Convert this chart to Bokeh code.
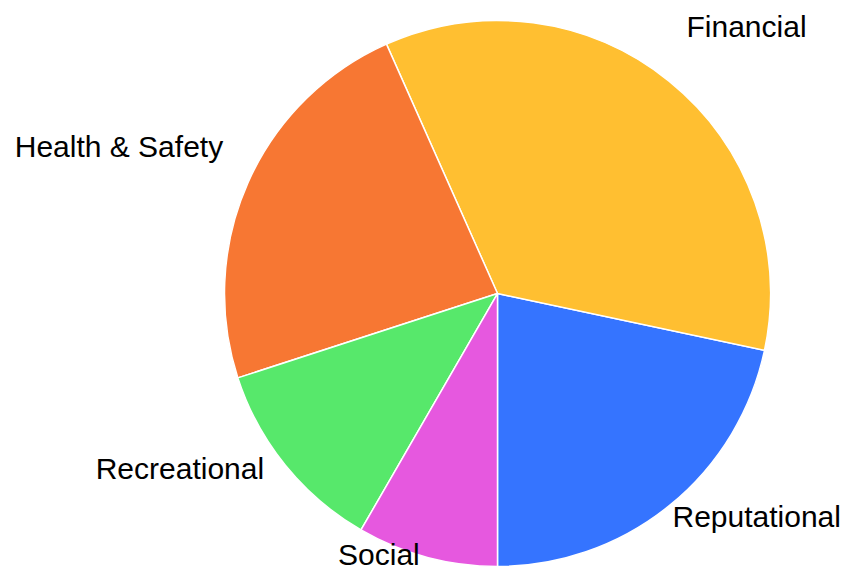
import math
from bokeh.plotting import figure
from bokeh.models import Range1d, ColumnDataSource
from bokeh.embed import file_html
from bokeh.resources import INLINE
from bokeh.core.properties import value

# ---- data ----
categories = ["Reputational", "Financial", "Health & Safety", "Recreational", "Social"]
counts = [13, 21, 14, 7, 5]
colors = ["#3574FF", "#FFBF31", "#F77733", "#57E86B", "#E658DF"]

# ---- layout / style ----
W, H = 842, 571
CX, CY = 497, 293          # pie centre in canvas pixels
R = 273                    # pie radius in pixels
LABEL_R = 1.1 * R
label_dx = [-14, 0, 0, 0, 0]
label_dy = [-10, -34, -25, -14, -29]

total = float(sum(counts))
starts, ends, mids = [], [], []
a = -math.pi / 2
for c in counts:
    span = 2 * math.pi * c / total
    starts.append(a)
    ends.append(a + span)
    mids.append(a + span / 2)
    a += span

src = ColumnDataSource(dict(cat=categories, start=starts, end=ends, color=colors))

lx = [LABEL_R * math.cos(m) for m in mids]
ly = [LABEL_R * math.sin(m) for m in mids]
align = ["left" if math.cos(m) > 0 else "right" for m in mids]
lsrc = ColumnDataSource(dict(x=lx, y=ly, text=categories, align=align,
                             dx=label_dx, dy=label_dy))

p = figure(width=W, height=H, output_backend="svg", toolbar_location=None,
           x_range=Range1d(-CX, W - CX), y_range=Range1d(CY - H, CY),
           min_border=0, outline_line_color=None)
p.axis.visible = False
p.grid.visible = False
p.background_fill_color = "white"
p.border_fill_color = "white"

p.wedge(x=0, y=0, radius=R, start_angle="start", end_angle="end",
        direction="anticlock", fill_color="color", line_color="white",
        line_width=1.5, source=src)

p.text(x="x", y="y", text="text", text_align="align", text_baseline="middle",
       x_offset="dx", y_offset="dy", text_font=value("Liberation Sans"),
       text_font_size="30px", text_color="black", source=lsrc)

open("out.html", "w").write(file_html(p, INLINE))
